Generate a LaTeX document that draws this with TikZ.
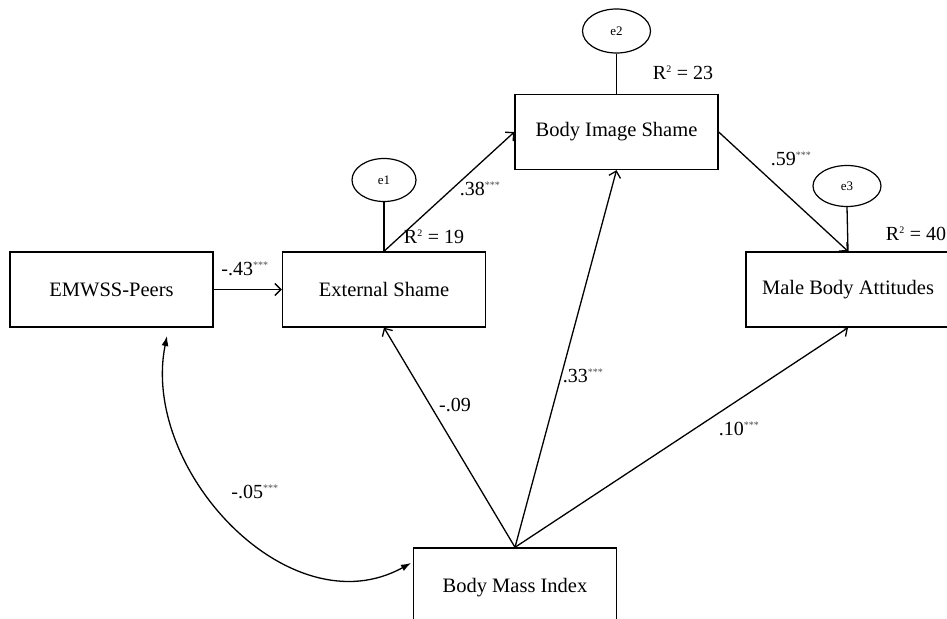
\documentclass[tikz,border=0pt]{standalone}
\usepackage{fontspec}
\setmainfont{Liberation Serif}
\usetikzlibrary{arrows.meta,shapes.geometric}
\newcommand{\sig}{\textsuperscript{\fontsize{10}{10}\selectfont\color{black!70}***}}
\newcommand{\sqr}{\textsuperscript{\fontsize{10}{10}\selectfont 2}}
\begin{document}
\begin{tikzpicture}[x=1pt,y=-1pt,
  box/.style={draw, line width=1.4pt, minimum width=203pt, minimum height=75pt, inner sep=0pt, font=\fontsize{20.5}{22}\selectfont},
  err/.style={draw, ellipse, line width=1.2pt, minimum width=64pt, minimum height=43pt, inner sep=0pt, font=\fontsize{13}{13}\selectfont},
  path/.style={line width=1.3pt, -{Straight Barb[length=6pt,width=12pt,line width=1.3pt]}},
  cov/.style={line width=1.3pt, {Latex[length=10pt,width=7pt]}-{Latex[length=10pt,width=7pt]}},
  lbl/.style={font=\fontsize{20}{22}\selectfont, inner sep=0pt}
]
\useasboundingbox (0,0) rectangle (947,618);
\clip (0,0) rectangle (947,618);
\fill[white] (0,0) rectangle (947,618);

\node[box] (emw) at (111.5,289.5) {EMWSS-Peers};
\node[box] (ext) at (384,289.5) {External Shame};
\node[box] (bis) at (616.5,132) {Body Image Shame};
\node[box, minimum width=204pt] (mba) at (848,289.5) {Male Body Attitudes};
\node[box, minimum height=80pt] (bmi) at (515,588) {Body Mass Index};

\node[err] (e1) at (384,180) {e1};
\node[err, minimum width=68pt, minimum height=44pt] (e2) at (616.5,31) {e2};
\node[err, minimum width=68pt, minimum height=41pt] (e3) at (847,186) {e3};

\draw[line width=1.3pt] (e1.south) -- (ext.north);
\draw[line width=1.3pt] (e2.south) -- (bis.north);
\draw[line width=1.3pt] (e3.south) -- (mba.north);

\node[lbl] (r1) at (434,237) {R\sqr{} = 19};
\node[lbl] (r2) at (683,73) {R\sqr{} = 23};
\node[lbl] (r3) at (916,234) {R\sqr{} = 40};

\draw[path] (emw.east) -- (ext.west);
\draw[path] (ext.north) -- (bis.west);
\draw[path] (bis.east) -- (mba.north);
\coordinate (src) at (bmi.north);
\draw[path] (src) -- (ext.south);
\draw[path] (src) -- (bis.south);
\draw[path] (src) -- (mba.south);

\coordinate (c1) at (167,336);
\coordinate (c2) at (411,563);
\draw[cov] (c1) .. controls (140,470) and (290,630) .. (c2);

\node[lbl] (l43) at (245,269) {-.43\sig};
\node[lbl] (l38) at (480,189) {.38\sig};
\node[lbl] (l59) at (791,159) {.59\sig};
\node[lbl] (l09) at (455,405) {-.09};
\node[lbl] (l33) at (583,376) {.33\sig};
\node[lbl] (l10) at (739,429) {.10\sig};
\node[lbl] (l05) at (255,492) {-.05\sig};
\end{tikzpicture}
\end{document}
